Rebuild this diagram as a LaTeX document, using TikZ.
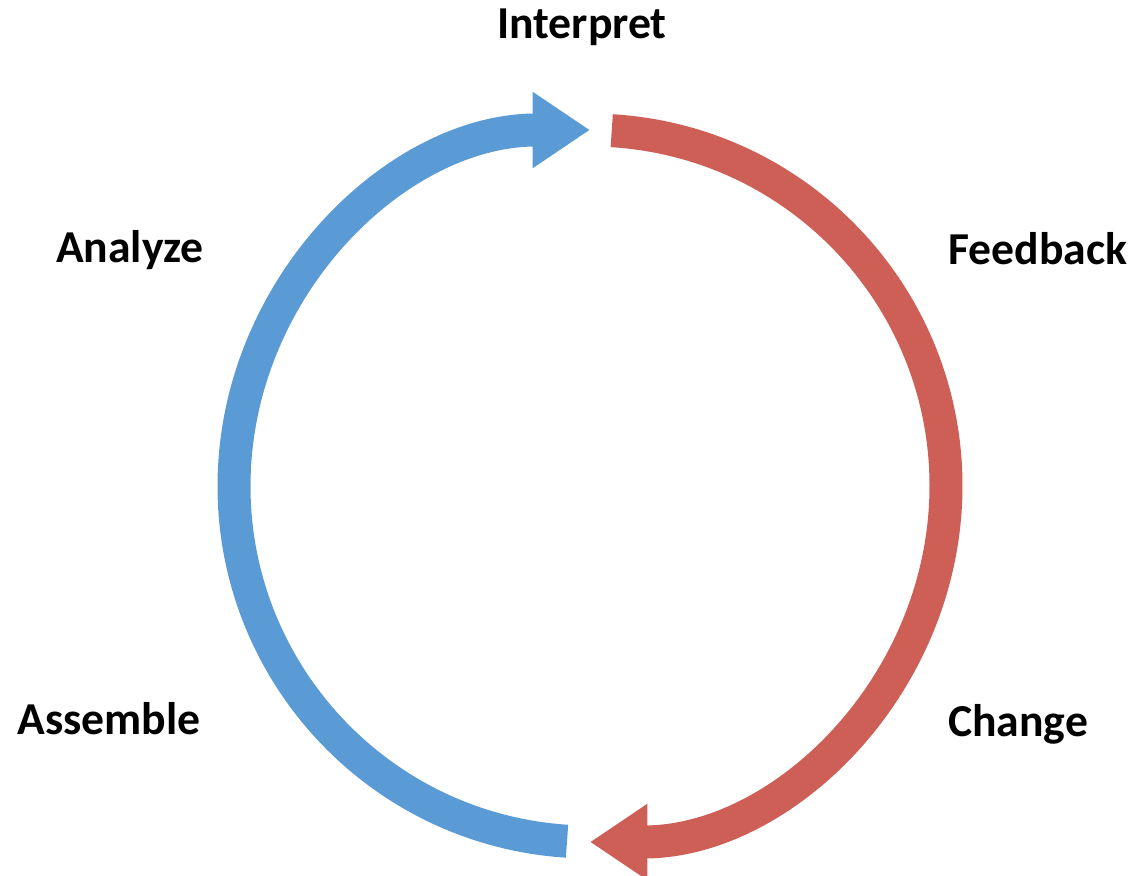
\documentclass[tikz,border=0pt]{standalone}
\usepackage{fontspec}
\setmainfont{Carlito}
\usetikzlibrary{arrows.meta}
\definecolor{cycleblue}{RGB}{91,155,213}
\definecolor{cyclered}{RGB}{205,95,87}
\tikzset{
  steplabel/.style={anchor=base,font=\bfseries\fontsize{26}{31}\selectfont},
  band/.style={line width=0.66cm,-{Triangle[width=1.45cm,length=1.15cm]}}
}
\begin{document}
\begin{tikzpicture}[x=0.02cm,y=0.02cm]
\useasboundingbox (0,0) rectangle (1137,876);
\coordinate (c) at (590,390);
\draw[band,cycleblue] (c) ++(266.3:356) arc[start angle=266.3,end angle=90,radius=356];
\draw[band,cyclered] (c) ++(86.5:356) arc[start angle=86.5,end angle=-90,radius=356];
\foreach \name/\x/\y/\txt in {interpret/582/837/Interpret, analyze/130/613/Analyze,
  feedback/1038/611/Feedback, assemble/109/141/Assemble, change/1018/139/Change}
{
    \node[steplabel] (\name) at (\x,\y) {\txt};
}
\end{tikzpicture}
\end{document}
